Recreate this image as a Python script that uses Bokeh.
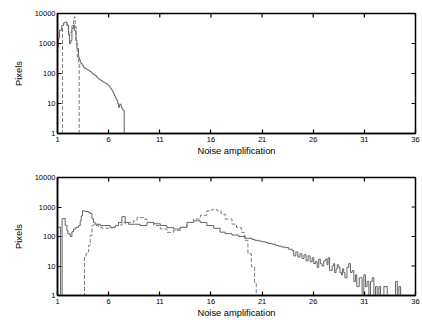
import math
from bokeh.plotting import figure
from bokeh.layouts import column
from bokeh.models import FixedTicker, NumeralTickFormatter, Range1d
from bokeh.embed import file_html
from bokeh.resources import INLINE

# ---- data ----
x_ticks = [1, 6, 11, 16, 21, 26, 31, 36]
y_ticks = [1, 10, 100, 1000, 10000]

top_solid_x = [1.0, 1.1, 1.2, 1.42, 1.6, 1.75, 1.92, 2.08, 2.17, 2.3, 2.41, 2.57, 2.67, 2.8, 2.9,
               3.06, 3.14, 3.22, 3.3, 3.4, 3.55, 3.65, 3.8, 3.9, 4.03, 4.15, 4.3, 4.4, 4.52, 4.65,
               4.8, 4.9, 5.01, 5.12, 5.25, 5.38, 5.5, 5.62, 5.75, 5.87, 5.99, 6.07,
               6.15, 6.22, 6.3, 6.4, 6.48, 6.57, 6.65, 6.73, 6.81, 6.89, 6.97, 7.05, 7.14, 7.22,
               7.3, 7.38, 7.46, 7.52]
top_solid_y = [760, 1500, 2750, 4000, 4900, 5200, 4100, 2100, 1000, 1260, 3160, 4100, 2750, 1260, 680,
               355, 290, 240, 215, 190, 160, 150, 140, 132, 126, 116, 108, 100, 93, 86,
               78, 70, 66, 62, 58, 53, 51, 48, 46, 42, 40, 36,
               33, 30, 28, 24, 21, 18, 16, 14, 12.6, 10, 7.4, 9, 9.5, 7.5,
               6.6, 6, 5.8, 1]

top_dash_x = [1.43, 1.49, 1.6, 1.8, 1.95, 2.08, 2.24, 2.41, 2.57, 2.63, 2.73, 2.83, 2.93, 3.06, 3.12]
top_dash_y = [1, 4000, 4600, 4600, 3200, 1900, 2400, 4000, 6800, 7700, 3500, 1000, 350, 240, 1]

bot_solid_x = [1.0, 1.2, 1.3, 1.45, 1.59, 1.75, 1.92, 2.01, 2.24, 2.41, 2.57, 2.8, 3.06, 3.22, 3.32,
               3.45, 3.71, 4.04, 4.2, 4.37, 4.52, 4.69, 5.18, 5.67, 6.16, 6.65, 6.97, 7.3, 7.62,
               7.95, 8.6, 9.09, 9.75, 10.4, 11.05, 11.7, 12.35, 13.0, 13.66, 14.3, 14.96, 15.6,
               16.27, 16.9, 17.4, 18.06, 18.71, 19.36, 20.01, 20.3, 20.66, 21.0, 21.32, 21.6,
               21.97, 22.3, 22.62, 22.9, 23.27, 23.6, 23.93,
               24.1, 24.3, 24.5, 24.7, 24.9, 25.1, 25.3, 25.5, 25.7, 25.9, 26.05, 26.21, 26.38,
               26.54, 26.7, 26.86, 27.03, 27.19, 27.35, 27.45, 27.6, 27.68, 27.85, 28.0, 28.1,
               28.23, 28.35, 28.5, 28.62, 28.76, 28.86, 28.98, 29.1, 29.3, 29.47, 29.64, 29.8,
               29.97, 30.13, 30.26, 30.39, 30.5, 30.62, 30.78, 30.95, 31.11, 31.27, 31.44, 31.6,
               31.77, 31.93, 32.09, 32.26, 32.42, 32.58, 32.91, 33.24, 34.05, 34.22, 34.38, 34.54]
bot_solid_y = [200, 210, 1, 400, 410, 240, 160, 123, 100, 145, 180, 205, 235, 340, 500,
               740, 700, 660, 600, 400, 300, 260, 235, 235, 205, 235, 300, 470, 300,
               260, 260, 235, 300, 270, 235, 200, 180, 205, 300, 340, 300, 235,
               190, 140, 125, 112, 100, 87, 79, 74, 70, 66, 63, 58,
               55, 50, 47, 44, 42, 37, 33,
               22, 30, 20, 26, 18, 24, 15, 22, 14, 19, 12, 14, 9,
               17, 12, 10, 15, 17, 11, 19, 7, 7, 10, 12, 6,
               8, 11, 9, 6, 5, 8, 6, 4, 9, 12, 6, 7,
               3, 5, 2, 2, 4, 4, 1, 5, 2, 3, 1, 3,
               4, 1, 2, 1, 2, 1, 2, 1, 3, 1, 2, 1]

bot_dash_x = [3.5, 3.64, 3.78, 3.97, 4.04, 4.2, 4.37, 4.43, 4.69, 5.02, 5.34, 5.83, 6.32, 6.65,
              6.97, 7.3, 7.62, 7.95, 8.44, 8.77, 9.1, 9.42, 9.75, 10.4, 11.05, 11.7, 12.35,
              13.0, 13.66, 14.3, 14.96, 15.6, 16.1, 16.6, 17.0, 17.4, 18.06, 18.5, 18.97,
              19.3, 19.62, 19.95, 20.27, 20.43]
bot_dash_y = [1, 20, 26, 30, 50, 108, 235, 245, 235, 205, 190, 190, 200, 235,
              245, 300, 270, 300, 340, 440, 440, 390, 300, 235, 180, 138, 160,
              205, 300, 390, 525, 740, 830, 740, 575, 390, 263, 200, 138,
              74, 26, 9.5, 2.6, 1]

SOLID = "#636363"
DASH = "#7c7c7c"
FONT = "Liberation Sans"


def make_fig(height, top, bottom):
    p = figure(width=422, height=height, x_range=Range1d(1, 36), y_range=Range1d(1, 10000),
               y_axis_type="log", output_backend="svg", toolbar_location=None,
               min_border_left=57, min_border_right=7, min_border_top=top,
               min_border_bottom=bottom)
    p.grid.visible = False
    p.outline_line_color = "black"
    p.outline_line_width = 1.5
    p.background_fill_color = "white"
    p.border_fill_color = "white"

    xa = p.xaxis[0]
    xa.ticker = FixedTicker(ticks=x_ticks)
    xa.axis_label = "Noise amplification"
    ya = p.yaxis[0]
    ya.ticker = FixedTicker(ticks=y_ticks)
    ya.formatter = NumeralTickFormatter(format="0")
    ya.axis_label = "Pixels"
    for ax in (xa, ya):
        ax.major_tick_in = 4
        ax.major_tick_out = 0
        ax.minor_tick_line_color = None
        ax.axis_line_color = "black"
        ax.axis_line_width = 1.5
        ax.major_tick_line_color = "black"
        ax.major_tick_line_width = 1.2
        ax.major_label_text_font = FONT
        ax.major_label_text_font_size = "7.5px"
        ax.major_label_text_color = "black"
        ax.axis_label_text_font = FONT
        ax.axis_label_text_font_size = "9.3px"
        ax.axis_label_text_font_style = "normal"
        ax.axis_label_text_color = "black"
    xa.major_label_standoff = 3
    xa.axis_label_standoff = 1
    ya.major_label_standoff = 2
    ya.axis_label_standoff = 8

    # inward ticks on the top and right edges of the frame (clipped to the frame)
    p.scatter(x=x_ticks, y=[y_ticks[-1]] * len(x_ticks), marker="dash", angle=math.pi / 2,
              size=8, line_color="black", line_width=1.2)
    p.scatter(x=[x_ticks[-1]] * len(y_ticks), y=y_ticks, marker="dash",
              size=8, line_color="black", line_width=1.2)
    return p


p1 = make_fig(171, 13, 38)
p1.step(top_solid_x, top_solid_y, mode="after", line_color=SOLID, line_width=1)
p1.step(top_dash_x, top_dash_y, mode="after", line_color=DASH, line_width=1, line_dash="4 2")

p2 = make_fig(149, 6, 24)
p2.step(bot_solid_x, bot_solid_y, mode="after", line_color=SOLID, line_width=1)
p2.step(bot_dash_x, bot_dash_y, mode="after", line_color=DASH, line_width=1, line_dash="4 2")

layout = column(p1, p2, spacing=0)
open("out.html", "w").write(file_html(layout, INLINE))
